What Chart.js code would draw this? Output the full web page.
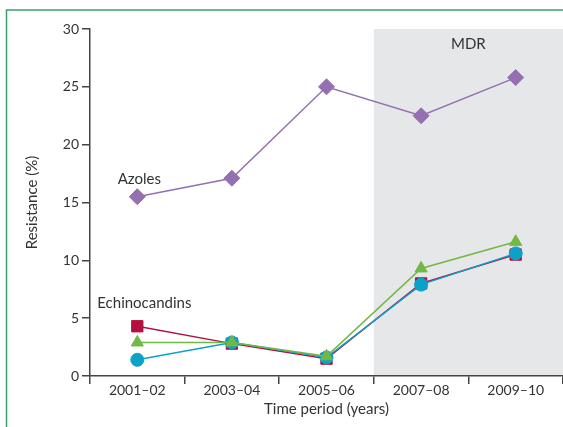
<!DOCTYPE html>
<html>
<head>
<meta charset="utf-8">
<script src="https://cdn.jsdelivr.net/npm/chart.js@4/dist/chart.umd.min.js"></script>
<style>
  html, body { margin: 0; padding: 0; background: #fff; }
  #wrap { width: 563px; height: 427px; position: relative; }
</style>
</head>
<body>
<div id="wrap"><canvas id="chart" width="563" height="427"></canvas></div>
<script>
// periods and resistance values (%)
const periods = ['2001–02', '2003–04', '2005–06', '2007–08', '2009–10'];
const azoles = [15.5, 17.1, 25.0, 22.5, 25.8];
const echinoSquare = [4.3, 2.8, 1.5, 8.0, 10.5];
const echinoCircle = [1.4, 2.9, 1.6, 7.9, 10.6];
const echinoTriangle = [2.9, 2.9, 1.7, 9.3, 11.6];
const yTicks = [0, 5, 10, 15, 20, 25, 30];
const mdrFrom = 3; // first period of the MDR band

const PURPLE = '#9570b0', RED = '#b2103f', GREEN = '#72b844', CYAN = '#0ba2c9';
const FONT = 'Lato, "Open Sans", sans-serif';
const TXT = '#333';

// grey MDR band, labels and the green frame
const extras = {
  id: 'extras',
  beforeDraw(chart) {
    const { ctx, chartArea: a, scales: { x } } = chart;
    const half = (x.getPixelForValue(1) - x.getPixelForValue(0)) / 2;
    const left = x.getPixelForValue(mdrFrom) - half;
    ctx.save();
    ctx.fillStyle = '#e6e7e9';
    ctx.fillRect(left, a.top, a.right - left, a.bottom - a.top);
    ctx.strokeStyle = '#3c9e6e';
    ctx.lineWidth = 1.5;
    ctx.beginPath();
    ctx.moveTo(6.5, 427); ctx.lineTo(6.5, 10); ctx.lineTo(563, 10);
    ctx.stroke();
    ctx.restore();
  },
  afterDraw(chart) {
    const { ctx, chartArea: a, scales: { x, y } } = chart;
    const half = (x.getPixelForValue(1) - x.getPixelForValue(0)) / 2;
    const left = x.getPixelForValue(mdrFrom) - half;
    ctx.save();
    ctx.fillStyle = TXT;
    ctx.font = '15px ' + FONT;
    ctx.textAlign = 'center';
    ctx.textBaseline = 'middle';
    ctx.fillText('MDR', (left + a.right) / 2, a.top + 15);
    ctx.fillText('Azoles', x.getPixelForValue(0) + 2, y.getPixelForValue(17));
    ctx.textAlign = 'left';
    ctx.fillText('Echinocandins', x.getPixelForValue(0) - 40, y.getPixelForValue(6.3));
    ctx.restore();
  }
};

const ds = (label, data, color, style, r) => ({
  label, data,
  borderColor: color, backgroundColor: color,
  pointBackgroundColor: color, pointBorderColor: color,
  borderWidth: 1.5, pointStyle: style, pointRadius: r, pointHoverRadius: r,
  pointBorderWidth: 1, tension: 0
});

// first dataset is painted on top
new Chart(document.getElementById('chart'), {
  type: 'line',
  data: {
    labels: periods,
    datasets: [
      ds('Echinocandins C', echinoTriangle, GREEN, 'triangle', 7),
      ds('Echinocandins B', echinoCircle, CYAN, 'circle', 6.5),
      ds('Echinocandins A', echinoSquare, RED, 'rect', 8),
      ds('Azoles', azoles, PURPLE, 'rectRot', 8)
    ]
  },
  options: {
    responsive: false,
    animation: false,
    layout: { autoPadding: false, padding: { left: 19, top: 29, right: 0, bottom: 5 } },
    plugins: { legend: { display: false }, tooltip: { enabled: false } },
    scales: {
      x: {
        offset: true,
        grid: { display: true, offset: true, drawOnChartArea: false, drawTicks: true, tickLength: 8, color: '#444', lineWidth: 1.5 },
        border: { display: true, color: '#444', width: 1.5 },
        ticks: { color: TXT, font: { family: FONT, size: 14 }, padding: -2, maxRotation: 0 },
        title: { display: true, text: 'Time period (years)', color: TXT, font: { family: FONT, size: 15 }, padding: { top: 4, bottom: 4 } },
        afterFit(s) { s.height = 46; s.paddingLeft = 0; s.paddingRight = 0; }
      },
      y: {
        min: 0, max: 30,
        afterBuildTicks(s) { s.ticks = yTicks.map(v => ({ value: v })); },
        grid: { display: true, drawOnChartArea: false, drawTicks: true, tickLength: 8, color: '#444', lineWidth: 1.5 },
        border: { display: true, color: '#444', width: 1.5 },
        ticks: { color: TXT, font: { family: FONT, size: 14 }, padding: 3 },
        title: { display: true, text: 'Resistance (%)', color: TXT, font: { family: FONT, size: 15 }, padding: { top: 4, bottom: 4 } },
        afterFit(s) { s.width = 71; s.paddingTop = 0; s.paddingBottom = 0; }
      }
    }
  },
  plugins: [extras]
});
</script>
</body>
</html>
